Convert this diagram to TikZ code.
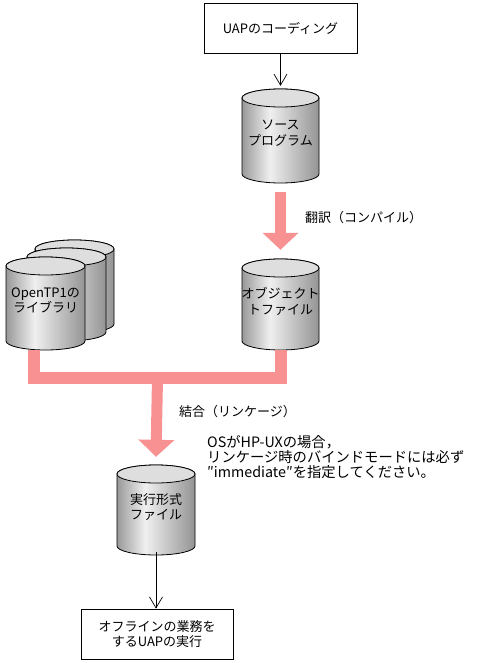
\documentclass[tikz,border=0pt]{standalone}
\usepackage{fontspec}
\newfontfamily\jp{Noto Sans CJK JP}
\usetikzlibrary{arrows.meta,calc}
\definecolor{pinkc}{RGB}{248,146,146}
\pgfdeclarehorizontalshading{cylshade}{100bp}{color(0bp)=(black!40); color(25bp)=(black!40); color(43bp)=(black!6); color(75bp)=(black!42); color(100bp)=(black!42)}
\newcommand\mycyl[6]{%
  \pgfmathsetmacro\cx{(#2+#3)/2}%
  \pgfmathsetmacro\rx{(#3-#2)/2}%
  \pgfmathsetmacro\cy{(#4+#5)/2}%
  \pgfmathsetmacro\cw{#3-#2}%
  \pgfmathsetmacro\ch{#4-#5}%
  \path[draw=black, line width=0.8pt, shade, shading=cylshade] (#2,#4-9) -- (#2,#5+9)
     arc[start angle=180, end angle=360, x radius=\rx, y radius=9] -- (#3,#4-9)
     arc[start angle=0, end angle=180, x radius=\rx, y radius=9] -- cycle;
  \path[draw=black, line width=0.8pt, fill=black!13] (\cx,#4-9) ellipse[x radius=\rx, y radius=9];
  \node[cylnode, minimum width=\cw pt, minimum height=\ch pt] (#1) at (\cx,\cy+3) {#6};
}
\begin{document}
\begin{tikzpicture}[x=1pt,y=1pt,
  font=\jp\fontsize{13pt}{15.5pt}\selectfont,
  box/.style={draw, line width=0.8pt, fill=white, align=center, inner sep=0pt},
  cylnode/.style={inner sep=0pt, align=center},
  lbl/.style={inner sep=0pt, align=left},
  thinarrow/.style={draw, line width=0.7pt, -{Straight Barb[length=11pt,width=13pt]}},
  pinkarrow/.style={draw=pinkc, line width=11pt, -{Triangle[length=17pt,width=35pt]}}]
\useasboundingbox (0,0) rectangle (483,-663);
\fill[white] (0,0) rectangle (483,-663);

\node[box, minimum width=153pt, minimum height=50pt] (coding) at (280.5,-28) {UAPのコーディング};

\mycyl{src}{242}{319}{-89}{-183}{ソース\\プログラム}
\mycyl{libc}{35}{114}{-240}{-333}{}
\mycyl{libb}{27}{106}{-248}{-341}{}
\mycyl{lib}{6}{85}{-257}{-350}{OpenTP1の\\ライブラリ}
\mycyl{obj}{242}{319}{-259}{-350}{オブジェクト\\トファイル}
\mycyl{exe}{117}{195}{-465}{-555}{実行形式\\ファイル}

\node[box, minimum width=152pt, minimum height=50pt] (run) at (157,-634) {オフラインの業務を\\するUAPの実行};

\draw[thinarrow] (coding.south) -- (coding.south |- src.north);
\draw[thinarrow] (exe.south) -- (exe.south |- run.north);

\draw[pinkarrow] ($(src.south)+(0,-12)$) -- ($(obj.north)+(0,6)$);

\coordinate (j) at (157.5,-378);
\draw[pinkc, line width=12pt] ($(lib.south)+(-12,-3)$) |- (j) -| ($(obj.south)+(0,-3)$);
\draw[pinkarrow] (j) -- ($(exe.north)+(0,5)$);

\node[lbl, anchor=west] (lbl1) at (305,-218) {翻訳（コンパイル）};
\node[lbl, anchor=west] (lbl2) at (179,-412) {結合（リンケージ）};
\node[lbl, anchor=north west, font=\jp\fontsize{14.3pt}{15pt}\selectfont] (note) at (207,-435) {OSがHP-UXの場合，\\リンケージ時のバインドモードには必ず\\″immediate″を指定してください。};
\end{tikzpicture}
\end{document}
